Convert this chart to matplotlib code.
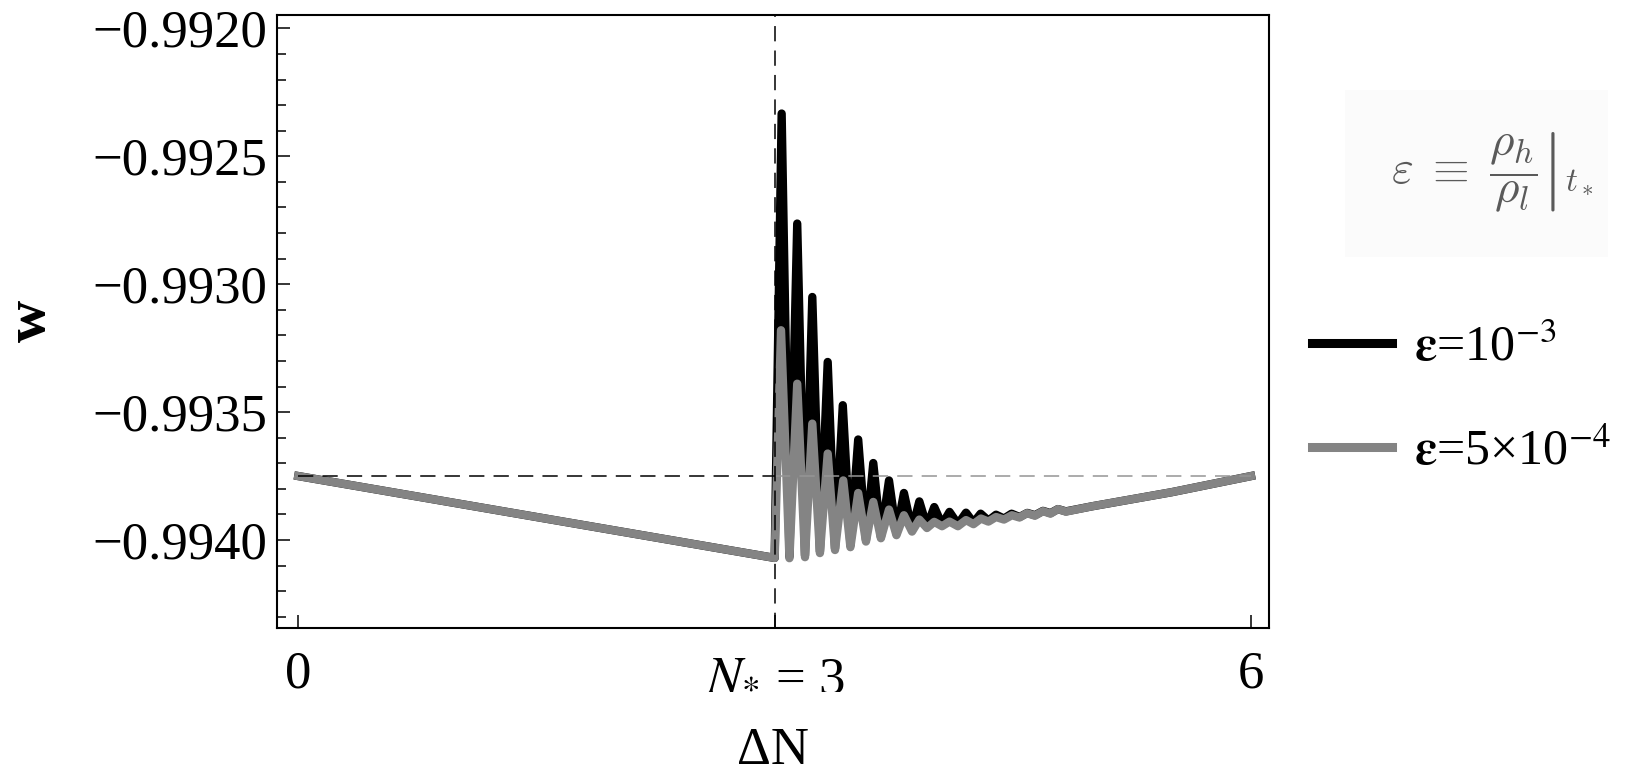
import matplotlib
matplotlib.use("Agg")
import matplotlib.pyplot as plt
from matplotlib.lines import Line2D
from matplotlib.patches import Rectangle
from matplotlib.font_manager import FontProperties

# equation of state w(ΔN)
# eps = 1e-3 (black): start, kink at N*, then peak/trough pairs, then back up
dn_black = [0.0, 3.0,
            3.044, 3.093, 3.142, 3.191, 3.237, 3.285, 3.334, 3.380, 3.429, 3.477,
            3.526, 3.575, 3.621, 3.669, 3.720, 3.767, 3.814, 3.865, 3.911, 3.959,
            4.005, 4.054, 4.101, 4.154, 4.205, 4.252, 4.297, 4.346, 4.394, 4.444,
            4.492, 4.542, 4.591, 4.639, 4.690, 4.737, 4.784, 4.834, 5.0, 5.5, 6.0]
w_black = [-0.99375, -0.99407,
           -0.992333, -0.994065, -0.992763, -0.994060, -0.993050, -0.994045,
           -0.993304, -0.994033, -0.993473, -0.994020, -0.993607, -0.994000,
           -0.993699, -0.993988, -0.993767, -0.993975, -0.993816, -0.993962,
           -0.993849, -0.993948, -0.993871, -0.993940, -0.993890, -0.993938,
           -0.993893, -0.993932, -0.993897, -0.993924, -0.993901, -0.993916,
           -0.993897, -0.993910, -0.993894, -0.993903, -0.993886, -0.993895,
           -0.993879, -0.993888, -0.993868, -0.993813, -0.99375]

# eps = 5e-4 (grey)
dn_grey = [0.0, 3.0,
           3.040, 3.093, 3.142, 3.191, 3.237, 3.285, 3.334, 3.380, 3.432, 3.477,
           3.526, 3.575, 3.621, 3.669, 3.720, 3.767, 3.814, 3.865, 3.911, 3.959,
           4.005, 4.054, 4.101, 4.154, 4.205, 4.252, 4.299, 4.346, 4.394, 4.444,
           4.494, 4.542, 4.589, 4.639, 4.690, 4.737, 4.784, 4.834, 5.0, 5.5, 6.0]
w_grey = [-0.99375, -0.99407,
          -0.993180, -0.994071, -0.993389, -0.994067, -0.993545, -0.994051,
          -0.993662, -0.994039, -0.993767, -0.994028, -0.993816, -0.994006,
          -0.993851, -0.993993, -0.993881, -0.993981, -0.993903, -0.993967,
          -0.993920, -0.993953, -0.993929, -0.993946, -0.993928, -0.993946,
          -0.993922, -0.993938, -0.993916, -0.993928, -0.993910, -0.993920,
          -0.993903, -0.993912, -0.993895, -0.993905, -0.993887, -0.993897,
          -0.993879, -0.993889, -0.993868, -0.993813, -0.99375]

# reference level w(0) and transition time N*
w_ref = -0.99375
n_star = 3.0
ref_left = [0.0, 3.0]
ref_right = [3.0, 6.0]

xticks = [0, 3, 6]
xticklabels = ["0", "$N_{*}$ = 3", "6"]
yticks = [-0.9920, -0.9925, -0.9930, -0.9935, -0.9940]
yticklabels = ["\u22120.9920", "\u22120.9925", "\u22120.9930", "\u22120.9935", "\u22120.9940"]
yminor = [-0.9921, -0.9922, -0.9923, -0.9924, -0.9926, -0.9927, -0.9928, -0.9929,
          -0.9931, -0.9932, -0.9933, -0.9934, -0.9936, -0.9937, -0.9938, -0.9939,
          -0.9941, -0.9942, -0.9943]

labels = [r"$\mathbf{\varepsilon}$=10$^{-3}$", "$\\mathbf{\\varepsilon}$=5\u00d710$^{-4}$"]
header = r"$\varepsilon\;\equiv\;\left.\dfrac{\rho_h}{\rho_l}\right|_{t_*}$"

GREY = "#848484"
SERIF = "Liberation Serif"
plt.rcParams["font.family"] = [SERIF, "DejaVu Serif"]
plt.rcParams["mathtext.fontset"] = "stix"

W, H = 1630, 774
fig = plt.figure(figsize=(W / 100, H / 100), dpi=100)
ax = fig.add_axes([276.7 / W, 1 - 628.3 / H, (1269.3 - 276.7) / W, (628.3 - 15.3) / H])

ax.plot(dn_black, w_black, color="black", lw=6, solid_joinstyle="round", zorder=2)
ax.plot(dn_grey, w_grey, color=GREY, lw=6, solid_joinstyle="round", zorder=3)

ax.plot(ref_left, [w_ref, w_ref], color="black", lw=1.1, dashes=(10, 6), zorder=4)
ax.plot(ref_right, [w_ref, w_ref], color="#959595", lw=1.1, dashes=(10, 6), zorder=4)
ax.axvline(n_star, color="black", lw=1.1, dashes=(10, 6), zorder=4)

ax.set_xlim(-0.136, 6.115)
ax.set_ylim(-0.994345, -0.991949)

ax.set_xticks(xticks)
ax.set_xticklabels(xticklabels)
ax.set_yticks(yticks)
ax.set_yticklabels(yticklabels)
ax.set_yticks(yminor, minor=True)
ax.tick_params(axis="both", direction="in", labelsize=38, width=1.1, length=9.5,
               top=False, right=False)
ax.tick_params(axis="y", which="minor", direction="in", width=1.1, length=6.5, right=False)
ax.tick_params(axis="y", pad=7)
ax.tick_params(axis="x", pad=16)
for sp in ax.spines.values():
    sp.set_linewidth(1.5)

fig.text(31 / W, 1 - 321 / H, "w", rotation=90, fontsize=42, fontweight="bold",
         ha="center", va="center")
fig.text(773 / W, 1 - 764 / H, "\u0394N", fontsize=38, ha="center", va="baseline")

# legend header in a faint box
fig.patches.append(Rectangle((1345 / W, 1 - 257 / H), 263 / W, 167 / H,
                             transform=fig.transFigure, facecolor="#fbfbfb",
                             edgecolor="none", zorder=0))
fig.text(1492 / W, 1 - 172 / H, header, fontsize=34, color="#5a5a5a",
         math_fontfamily="cm", ha="center", va="center")

handles = [Line2D([], [], color="black", lw=6.5), Line2D([], [], color=GREY, lw=6.5)]
prop = FontProperties(family=SERIF, size=36, math_fontfamily="stix")
fig.legend(handles, labels, loc="upper left", bbox_to_anchor=(1312 / W, 1 - 325 / H),
           frameon=False, prop=prop, handlelength=1.6, handletextpad=0.45,
           labelspacing=1.15, borderpad=0, borderaxespad=0)

fig.savefig("out.png", dpi=100)
